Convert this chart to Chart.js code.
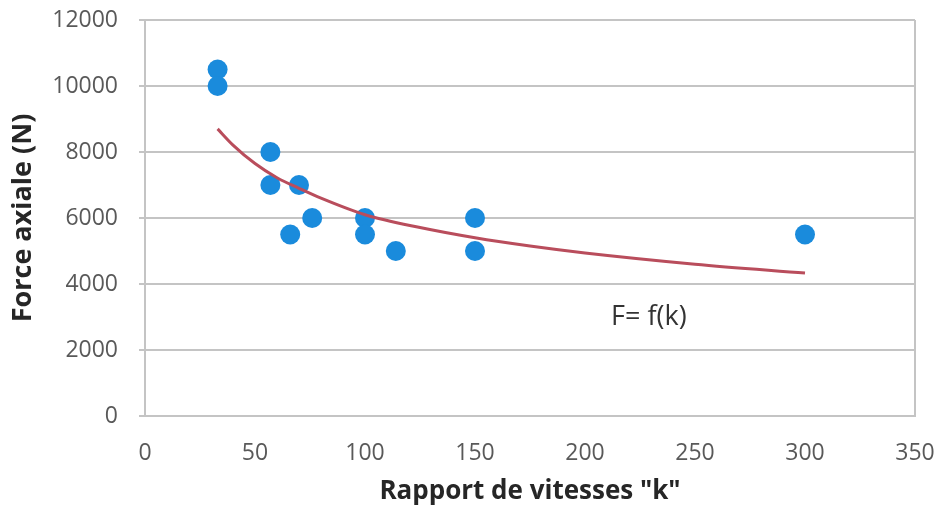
<!DOCTYPE html>
<html>
<head>
<meta charset="utf-8">
<title>Force axiale</title>
<script src="https://cdn.jsdelivr.net/npm/chart.js@4"></script>
<style>
  body { margin: 0; background: #fff; }
  canvas { display: block; }
</style>
</head>
<body>
<canvas id="forceChart" width="936" height="507"></canvas>
<script>
// Measured points: speed ratio k and axial force (N)
const kValues = [33, 33, 57, 57, 70, 66, 76, 100, 100, 114, 150, 150, 300];
const forceValues = [10500, 10000, 8000, 7000, 7000, 5500, 6000, 6000, 5500, 5000, 6000, 5000, 5500];

// Trend curve F = f(k)
const curveK = [33, 40, 50, 60, 70, 80, 100, 125, 150, 175, 200, 250, 300];
const curveF = [8700, 8210, 7650, 7220, 6900, 6600, 6100, 5710, 5400, 5150, 4940, 4600, 4330];

const xTicks = [0, 50, 100, 150, 200, 250, 300, 350];
const yTicks = [0, 2000, 4000, 6000, 8000, 10000, 12000];

const curveLabel = { k: 229, f: 3000, text: 'F= f(k)' };

const FONT = "'Open Sans', 'DejaVu Sans', sans-serif";
const gridGray = '#c4c4c4';

// writes the curve name inside the plot
const curveLabelPlugin = {
  id: 'curveLabel',
  afterDatasetsDraw(chart) {
    const { ctx, scales } = chart;
    ctx.save();
    ctx.font = '27px ' + FONT;
    ctx.fillStyle = '#333333';
    ctx.textAlign = 'center';
    ctx.textBaseline = 'middle';
    ctx.fillText(curveLabel.text, scales.x.getPixelForValue(curveLabel.k), scales.y.getPixelForValue(curveLabel.f));
    ctx.restore();
  }
};

const ctx = document.getElementById('forceChart').getContext('2d');
const forceChart = new Chart(ctx, {
  type: 'scatter',
  data: {
    datasets: [
      {
        type: 'line',
        label: 'F = f(k)',
        data: curveK.map((k, i) => ({ x: k, y: curveF[i] })),
        borderColor: '#b94d5c',
        borderWidth: 3,
        pointRadius: 0,
        cubicInterpolationMode: 'monotone',
        fill: false
      },
      {
        label: 'Force axiale',
        data: kValues.map((k, i) => ({ x: k, y: forceValues[i] })),
        backgroundColor: '#1a8bdc',
        borderWidth: 0,
        pointRadius: 10,
        pointHoverRadius: 10
      }
    ]
  },
  options: {
    responsive: false,
    animation: false,
    layout: { padding: { top: 20, right: 21, left: 0, bottom: 0 } },
    plugins: {
      legend: { display: false },
      tooltip: { enabled: false }
    },
    scales: {
      x: {
        type: 'linear',
        min: 0,
        max: 350,
        afterBuildTicks: (axis) => { axis.ticks = xTicks.map(v => ({ value: v })); },
        afterFit: (axis) => {
          axis.height = 91;
          axis.paddingLeft = 0;
          axis.paddingRight = 0;
        },
        grid: {
          drawTicks: false,
          lineWidth: 2,
          color: (c) => c.tick && c.tick.value === 350 ? gridGray : 'rgba(0,0,0,0)'
        },
        border: { display: true, color: gridGray, width: 2 },
        ticks: {
          padding: 24,
          color: '#595959',
          font: { family: FONT, size: 23 },
          maxRotation: 0,
          callback: (v) => String(v)
        },
        title: {
          display: true,
          text: 'Rapport de vitesses "k"',
          color: '#262626',
          font: { family: FONT, size: 26, weight: 'bold' },
          padding: { top: 0, bottom: 0 }
        }
      },
      y: {
        type: 'linear',
        min: 0,
        max: 12000,
        afterBuildTicks: (axis) => { axis.ticks = yTicks.map(v => ({ value: v })); },
        afterFit: (axis) => {
          axis.width = 145;
          axis.paddingTop = 0;
          axis.paddingBottom = 0;
        },
        grid: {
          color: gridGray,
          lineWidth: 2,
          tickLength: 6
        },
        border: { display: true, color: gridGray, width: 2 },
        ticks: {
          padding: 21,
          color: '#595959',
          font: { family: FONT, size: 23 },
          callback: (v) => String(v)
        },
        title: {
          display: true,
          text: 'Force axiale (N)',
          color: '#262626',
          font: { family: FONT, size: 27, weight: 'bold' },
          padding: { top: 7, bottom: 0 }
        }
      }
    }
  },
  plugins: [curveLabelPlugin]
});
</script>
</body>
</html>
